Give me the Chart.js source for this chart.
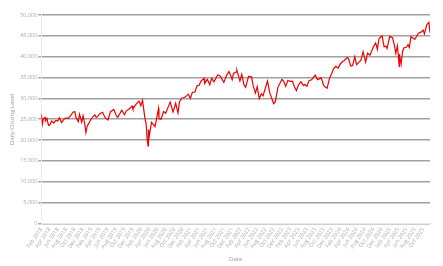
<!DOCTYPE html>
<html>
<head>
<meta charset="utf-8">
<script src="https://cdn.jsdelivr.net/npm/chart.js@4"></script>
<style>
  body { margin: 0; background: #fff; }
  #wrap { width: 443px; height: 266px; }
</style>
</head>
<body>
<div id="wrap"><canvas id="chart" width="443" height="266"></canvas></div>
<script>
// dates + closing levels (roughly two or three per month)
const dates = [
  "2018-02-01","2018-02-08","2018-02-15","2018-02-27","2018-03-01","2018-03-12","2018-03-23","2018-04-02","2018-04-16","2018-05-01","2018-05-15","2018-06-01","2018-06-11","2018-06-28","2018-07-16","2018-08-01","2018-08-15","2018-09-04","2018-09-21","2018-10-03","2018-10-10","2018-10-29","2018-11-07","2018-11-23","2018-12-03","2018-12-14","2018-12-24",
  "2019-01-02","2019-01-15","2019-02-01","2019-02-25","2019-03-08","2019-03-20","2019-04-01","2019-04-23","2019-05-13","2019-06-03","2019-06-20","2019-07-15","2019-08-05","2019-08-14","2019-09-12","2019-10-02","2019-10-15","2019-11-01","2019-11-27","2019-12-03","2019-12-27",
  "2020-01-17","2020-01-31","2020-02-12","2020-02-28","2020-03-09","2020-03-16","2020-03-23","2020-03-26","2020-04-01","2020-04-17","2020-05-01","2020-05-13","2020-06-08","2020-06-11","2020-06-26","2020-07-15","2020-07-31","2020-08-17","2020-09-02","2020-09-23","2020-10-12","2020-10-30","2020-11-09","2020-11-24","2020-12-15","2020-12-31",
  "2021-01-14","2021-01-29","2021-02-12","2021-03-01","2021-03-17","2021-04-01","2021-04-16","2021-05-07","2021-05-12","2021-06-01","2021-06-18","2021-07-02","2021-07-19","2021-08-16","2021-09-02","2021-09-30","2021-10-21","2021-11-08","2021-11-30","2021-12-10","2021-12-31",
  "2022-01-04","2022-01-27","2022-02-09","2022-02-24","2022-03-08","2022-03-29","2022-04-20","2022-05-02","2022-05-19","2022-06-01","2022-06-16","2022-07-01","2022-07-14","2022-08-16","2022-09-02","2022-09-30","2022-10-12","2022-11-01","2022-11-30","2022-12-13","2022-12-28",
  "2023-01-13","2023-01-31","2023-02-15","2023-03-01","2023-03-15","2023-03-31","2023-04-17","2023-05-04","2023-05-15","2023-05-31","2023-06-16","2023-07-03","2023-07-31","2023-08-18","2023-09-14","2023-10-03","2023-10-27","2023-11-14","2023-11-30","2023-12-13","2023-12-29",
  "2024-01-17","2024-01-31","2024-02-15","2024-03-01","2024-03-21","2024-04-01","2024-04-17","2024-05-01","2024-05-17","2024-05-30","2024-06-14","2024-07-01","2024-07-17","2024-08-05","2024-08-20","2024-09-06","2024-09-30","2024-10-18","2024-10-31","2024-11-11","2024-11-29","2024-12-04","2024-12-19","2024-12-31",
  "2025-01-10","2025-01-30","2025-02-18","2025-03-04","2025-03-13","2025-03-25","2025-04-08","2025-04-09","2025-04-21","2025-05-02","2025-05-13","2025-05-30","2025-06-11","2025-06-20","2025-07-03","2025-07-31","2025-08-14","2025-08-28","2025-09-12","2025-09-30","2025-10-10","2025-10-28","2025-11-12","2025-11-20"
];
const closes = [
  26186,23860,25200,25410,24608,25180,23533,23644,24573,24099,24706,24635,25322,24216,25064,25333,25162,25952,26743,26828,25598,24442,26180,24285,25826,24100,21792,
  23346,24065,25064,26091,25450,25745,26258,26656,25324,24815,26753,27359,25718,25479,27182,26078,27024,27347,28164,27502,28645,
  29348,28256,29551,25409,23851,20189,18592,22552,20944,24242,23724,23248,27572,25128,25016,26870,26428,27844,29100,26763,28837,26502,29158,30046,30199,30606,
  30991,29983,31458,31535,33015,33153,34200,34778,33587,34575,33290,34786,33962,35625,35443,33844,35603,36432,34484,35971,36338,
  36799,34160,35768,33223,32632,35294,35160,33061,31253,32813,29927,31097,30630,34152,31318,28725,29210,32653,34590,34108,32876,
  34303,34086,34128,32661,31875,33274,33987,33128,33348,32908,34299,34418,35560,34500,34907,33002,32418,34828,35951,37090,37690,
  37266,38150,38773,39087,39781,39567,37753,37903,40004,38112,38589,39170,41198,38703,40834,40345,42330,43275,41763,44293,44911,45014,42342,42544,
  41938,44882,44556,42521,40813,42587,37645,40608,38170,41317,42140,42270,42865,42206,44828,44130,44911,45636,45834,46397,45479,47706,48254,45752
];
const monthNames = ["Jan","Feb","Mar","Apr","May","Jun","Jul","Aug","Sep","Oct","Nov","Dec"];
const yTicks = [0,5000,10000,15000,20000,25000,30000,35000,40000,45000,50000];

// months since Feb 2018
function toX(s) {
  const [y, m, d] = s.split("-").map(Number);
  const dim = new Date(y, m, 0).getDate();
  return (y - 2018) * 12 + (m - 2) + (d - 1) / dim;
}
const points = dates.map((d, i) => ({ x: toX(d), y: closes[i] }));

const font = { family: "'Open Sans', sans-serif", size: 5.5 };

new Chart(document.getElementById("chart"), {
  type: "line",
  data: {
    datasets: [{
      data: points,
      borderColor: "#f00000",
      borderWidth: 1.2,
      pointRadius: 0,
      tension: 0,
      fill: false
    }]
  },
  options: {
    responsive: false,
    animation: false,
    devicePixelRatio: 1,
    layout: { padding: { top: 15, right: 13, left: 5, bottom: 3 } },
    plugins: { legend: { display: false }, tooltip: { enabled: false } },
    scales: {
      x: {
        type: "linear",
        min: 0,
        max: points[points.length - 1].x,
        grid: { display: false, drawTicks: false },
        border: { color: "#e6e6e6" },
        ticks: {
          stepSize: 2,
          includeBounds: false,
          autoSkip: false,
          minRotation: 55,
          maxRotation: 55,
          color: "#aaaaaa",
          font: font,
          padding: 3,
          callback: v => {
            const k = v + 1;
            return monthNames[k % 12] + " " + (2018 + Math.floor(k / 12));
          }
        },
        title: { display: true, text: "Date", color: "#999999", font: { family: "'Open Sans', sans-serif", size: 6 }, padding: { top: 3, bottom: 0 } }
      },
      y: {
        min: 0,
        max: 50000,
        afterBuildTicks: s => { s.ticks = yTicks.map(v => ({ value: v })); },
        grid: { color: "#a0a0a0", lineWidth: 1.5, tickLength: 3 },
        border: { color: "#ececec" },
        ticks: {
          color: "#aaaaaa",
          font: font,
          padding: 1,
          callback: v => v.toLocaleString("en-US")
        },
        title: { display: true, text: "Daily Closing Level", color: "#999999", font: { family: "'Open Sans', sans-serif", size: 6 }, padding: { bottom: 3 } }
      }
    }
  }
});
</script>
</body>
</html>
